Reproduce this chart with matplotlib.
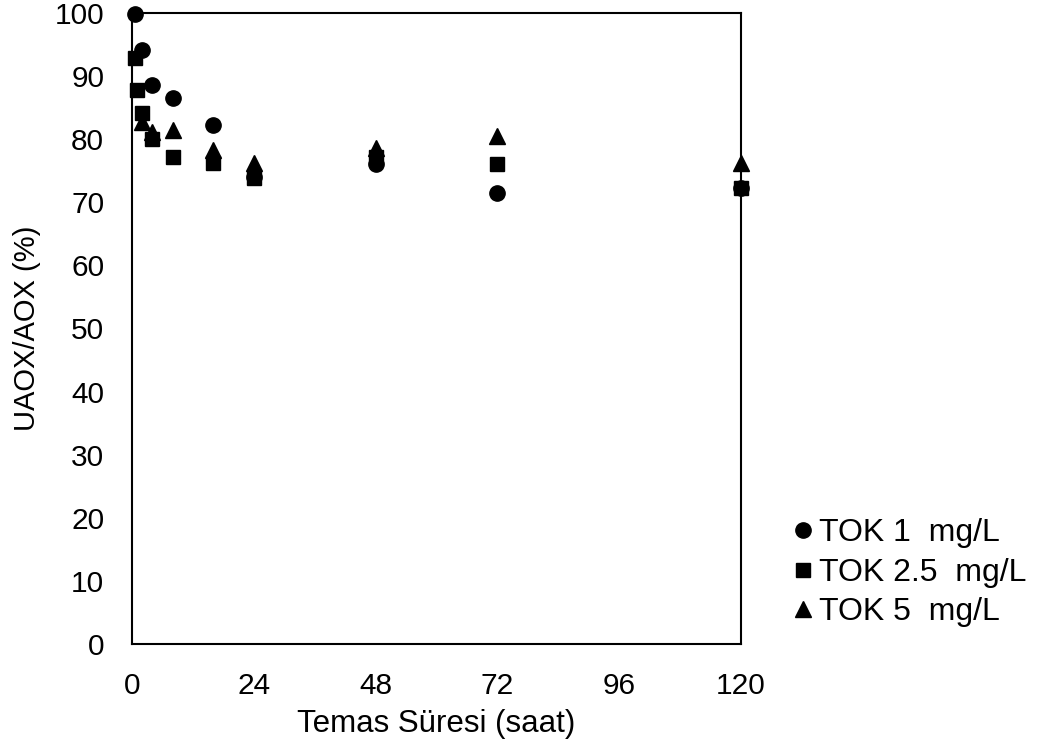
import numpy as np
import matplotlib.pyplot as plt

plt.rcParams['font.family'] = ['Liberation Sans', 'DejaVu Sans']

# contact time (hours) and UAOX/AOX (%) for each TOC level
t_tok1 = [0.5, 2, 4, 8, 16, 24, 48, 72, 120]
y_tok1 = [99.8, 94.1, 88.6, 86.6, 82.3, 74.0, 76.1, 71.4, 72.2]

t_tok25 = [0.5, 1, 2, 4, 8, 16, 24, 48, 72, 120]
y_tok25 = [92.9, 87.8, 84.1, 80.1, 77.1, 76.2, 73.8, 77.2, 76.1, 72.2]

t_tok5 = [2, 4, 8, 16, 24, 48, 72, 120]
y_tok5 = [82.7, 81.2, 81.5, 78.3, 76.2, 78.6, 80.5, 76.2]

labels = ['TOK 1  mg/L', 'TOK 2.5  mg/L', 'TOK 5  mg/L']
xticks = [0, 24, 48, 72, 96, 120]
yticks = np.arange(0, 101, 10)

fig = plt.figure(figsize=(10.37, 7.51), dpi=100)
ax = fig.add_axes([0.1273, 0.1425, 0.5873, 0.8402])

ax.plot(t_tok1, y_tok1, 'o', color='black', markersize=11, label=labels[0], clip_on=False)
ax.plot(t_tok25, y_tok25, 's', color='black', markersize=10.5, label=labels[1], clip_on=False)
ax.plot(t_tok5, y_tok5, '^', color='black', markersize=11, label=labels[2], clip_on=False)

ax.set_xlim(0, 120)
ax.set_ylim(0, 100)
ax.set_xticks(xticks)
ax.set_yticks(yticks)
ax.tick_params(length=0, pad=20, labelsize=21.5)
for sp in ax.spines.values():
    sp.set_linewidth(1.5)
    sp.set_color('black')

ax.set_xlabel('Temas Süresi (saat)', fontsize=22.5, labelpad=7)
ax.set_ylabel('UAOX/AOX (%)', fontsize=21, labelpad=10)

fig.legend(loc='upper left', bbox_to_anchor=(0.765, 0.31), frameon=False,
           fontsize=23, markerscale=1, handlelength=0.6, handletextpad=0.2,
           labelspacing=0.3, borderpad=0, borderaxespad=0)

fig.savefig('out.png', dpi=100)
